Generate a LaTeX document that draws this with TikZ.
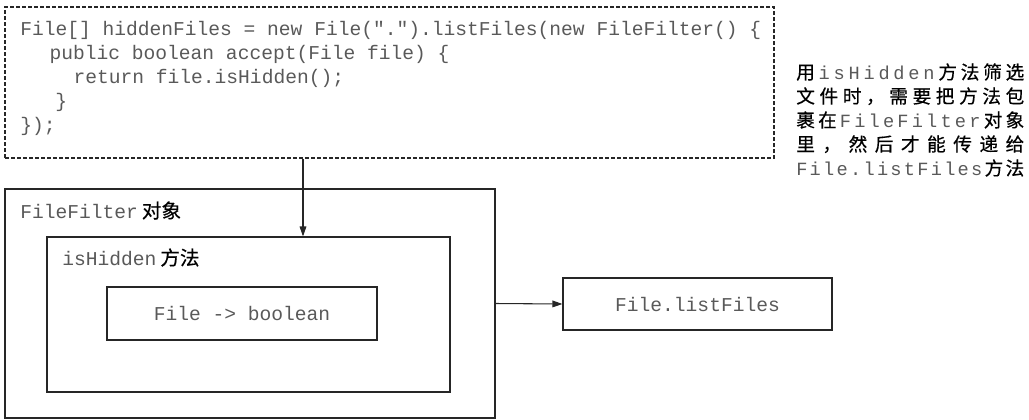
\documentclass[tikz,border=0pt]{standalone}
\usepackage{fontspec}
\setmonofont{Liberation Mono}
\newfontfamily\cjk[FakeBold=0.5]{Noto Sans CJK SC}
\usetikzlibrary{arrows.meta}

% spread the characters of one note line over a fixed width
\def\spreadchars#1#2{\ifnum`#1>"2000 {\cjk\color{black}#1}\else#1\fi\ifx\relax#2\else\hfil\expandafter\spreadchars\expandafter#2\fi}
\newcommand\noteline[1]{\hbox to 171pt{\spreadchars#1\relax}}

\tikzset{
  box/.style={draw=black!85, line width=0.8pt, inner sep=0pt},
  dashbox/.style={box, dash pattern=on 3pt off 1.5pt},
  code/.style={font=\ttfamily\fontsize{14.7}{18}\selectfont, text=black!65, inner sep=0pt},
  arr/.style={-{Triangle[length=7.5pt,width=5pt]}, line width=0.8pt, draw=black!85}
}

\begin{document}
\begin{tikzpicture}[x=0.75pt,y=-0.75pt]
\useasboundingbox (0,0) rectangle (1029,419);

\node (code) at (389.5,82.5) [dashbox, minimum width=576.75pt, minimum height=113.25pt] {};
% base of a multi-line node is its last line
\node (codetext) at (20,131) [code, anchor=base west, align=left]
  {File[] hiddenFiles = new File(".").listFiles(new FileFilter() \{\\
   \hspace*{22pt}public boolean accept(File file) \{\\
   \hspace*{40pt}return file.isHidden();\\
   \hspace*{26.25pt}\}\\
   \});};

\node (filter) at (250,303.5) [box, minimum width=367.5pt, minimum height=171.75pt] {};
\node (method) at (248.5,314.5) [box, minimum width=302.25pt, minimum height=116.25pt] {};
\node (sig) at (242,313.5) [box, code, minimum width=202.5pt, minimum height=39.75pt] {File -> boolean};
\node (files) at (697.5,304) [box, code, minimum width=201.75pt, minimum height=39pt] {File.listFiles};

\node (filterlabel) at (20,218) [code, anchor=base west] {FileFilter\hspace{3pt}{\cjk\color{black}对象}};
\node (methodlabel) at (62,265) [code, anchor=base west] {isHidden\hspace{3pt}{\cjk\color{black}方法}};

\node (note) at (796,120) [anchor=west, align=left, inner sep=0pt, text=black!65,
  font=\ttfamily\fontsize{14}{18}\selectfont] {%
  \noteline{用isHidden方法筛选}\\
  \noteline{文件时，需要把方法包}\\
  \noteline{裹在FileFilter对象}\\
  \noteline{里，然后才能传递给}\\
  \noteline{File.listFiles方法}};

\coordinate (drop) at (303,0);
\draw[arr] (code.south -| drop) -- (method.north -| drop);
\draw[arr] (filter.east) -- (files.west);
\end{tikzpicture}
\end{document}
